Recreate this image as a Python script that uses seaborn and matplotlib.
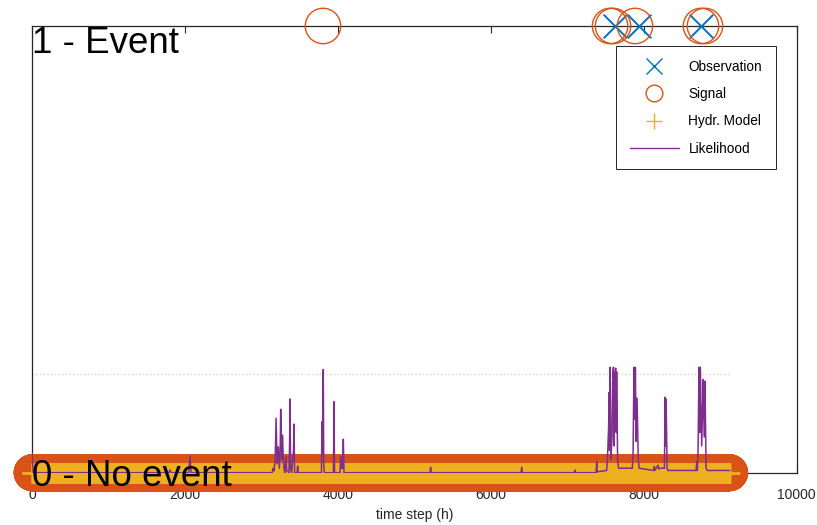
import numpy as np
import pandas as pd
import seaborn as sns
import matplotlib
matplotlib.use("Agg")
import matplotlib.pyplot as plt
from matplotlib.lines import Line2D

# ---------------- data ----------------
n_hours = 9125                                   # length of the hourly record
signal_event_hours = [3805, 7559, 7598, 7885, 8748, 8800]
observation_event_hours = [7624, 7938, 8748]
model_event_hours = []                           # hydrological model never fires
likelihood_level = 0.221                         # dotted reference level

lik_t = [0, 15, 1790, 1805, 1820, 2050, 2066, 2080,
         3140, 3155, 3165, 3180, 3192, 3205, 3221, 3235, 3245, 3252, 3262,
         3268, 3275, 3285, 3295, 3305, 3322, 3330, 3360, 3368, 3374, 3382,
         3395, 3420, 3426, 3434, 3466, 3474, 3482,
         3785, 3792, 3800, 3809, 3815, 3822, 3942, 3949, 3956,
         4028, 4036, 4045, 4062, 4071, 4080,
         5205, 5213, 5221, 6395, 6403, 6411, 7092, 7100, 7108,
         7376, 7384, 7392, 7515, 7528, 7540, 7548, 7553, 7559, 7570, 7585,
         7592, 7603, 7612, 7620, 7633, 7640, 7645, 7658, 7670,
         7850, 7860, 7872, 7880, 7890, 7900, 7912, 7928, 7940,
         8130, 8138, 8146, 8185, 8195, 8210, 8270, 8279, 8286, 8292, 8305,
         8315, 8685, 8692, 8700, 8710, 8722, 8731, 8740, 8757, 8770, 8778,
         8790, 8800, 8815, 8830, 9124]
lik_v = [0.045, 0.0, 0.0, 0.006, 0.0, 0.0, 0.037, 0.0,
         0.0, 0.010, 0.004, 0.030, 0.122, 0.020, 0.058, 0.010, 0.050, 0.142, 0.058,
         0.030, 0.084, 0.036, 0.010, 0.0, 0.036, 0.005, 0.0, 0.060, 0.165, 0.010,
         0.0, 0.050, 0.109, 0.0, 0.0, 0.015, 0.0,
         0.0, 0.114, 0.040, 0.231, 0.020, 0.0, 0.0, 0.159, 0.0,
         0.0, 0.036, 0.010, 0.010, 0.075, 0.0,
         0.0, 0.012, 0.0, 0.0, 0.012, 0.0, 0.0, 0.006, 0.0,
         0.0, 0.025, 0.002, 0.005, 0.044, 0.100, 0.180, 0.050, 0.236, 0.030, 0.080,
         0.200, 0.236, 0.060, 0.220, 0.234, 0.090, 0.226, 0.028, 0.010,
         0.010, 0.044, 0.236, 0.120, 0.236, 0.070, 0.167, 0.030, 0.010,
         0.005, 0.014, 0.005, 0.017, 0.008, 0.010, 0.010, 0.169, 0.060, 0.165, 0.010,
         0.005, 0.005, 0.025, 0.005, 0.050, 0.236, 0.090, 0.236, 0.060, 0.150, 0.209,
         0.080, 0.205, 0.010, 0.005, 0.005]

x_ticks = [0, 2000, 4000, 6000, 8000, 10000]
legend_labels = ["Observation", "Signal", "Hydr. Model", "Likelihood"]

# ---------------- series construction ----------------
hours = np.arange(n_hours)
observation = np.zeros(n_hours); observation[observation_event_hours] = 1
signal = np.zeros(n_hours); signal[signal_event_hours] = 1
model = np.zeros(n_hours); model[model_event_hours] = 1
df = pd.DataFrame({"t": hours, "obs": observation, "sig": signal, "mod": model})
lik = pd.DataFrame({"t": lik_t, "v": lik_v})

# ---------------- style ----------------
sns.set_theme(style="white")
plt.rcParams["font.family"] = ["Liberation Sans", "DejaVu Sans"]
dark = "#262626"
c_blue, c_orange, c_yellow, c_purple = "#0072BD", "#D95319", "#EDB120", "#7E2F8E"

fig = plt.figure(figsize=(8.17, 5.25), dpi=100)
ax = fig.add_axes([0.03917, 0.09962, 0.9360, 0.8509])

sns.scatterplot(data=df, x="t", y="obs", ax=ax, marker="x", s=17 ** 2,
                color=c_blue, linewidth=1.4, clip_on=False, zorder=3, legend=False)
sns.scatterplot(data=df, x="t", y="sig", ax=ax, marker="o", s=25.5 ** 2,
                facecolors="none", edgecolor=c_orange, linewidth=1.0,
                clip_on=False, zorder=3, legend=False)
sns.scatterplot(data=df, x="t", y="mod", ax=ax, marker="+", s=14.4 ** 2,
                color=c_yellow, linewidth=1.0, clip_on=False, zorder=3, legend=False)
sns.lineplot(data=lik, x="t", y="v", ax=ax, color=c_purple, linewidth=1.1,
             estimator=None, sort=False, zorder=4, legend=False)
sns.lineplot(x=[0, n_hours - 1], y=[likelihood_level, likelihood_level], ax=ax,
             color="#d6d8b8", linewidth=1.0, linestyle=":", zorder=1.5, legend=False)

ax.set_xlim(0, 10000)
ax.set_ylim(0, 1)
ax.set_xticks(x_ticks)
ax.set_xticklabels([str(v) for v in x_ticks])
ax.set_yticks([])
ax.tick_params(axis="x", direction="in", top=True, bottom=True, length=5,
               width=0.8, color=dark, labelcolor=dark, labelsize=10, pad=11)
for sp in ax.spines.values():
    sp.set_color(dark)
    sp.set_linewidth(0.9)
ax.set_xlabel("time step (h)", fontsize=10, color=dark, labelpad=4)
ax.set_ylabel("")

ax.text(0, 1, "1 - Event", ha="left", va="top", fontsize=26.5, color="black", zorder=6)
ax.text(0, 0, "0 - No event", ha="left", va="center_baseline", fontsize=26.5,
        color="black", zorder=6)

handles = [
    Line2D([], [], ls="none", marker="x", color=c_blue, markersize=12, markeredgewidth=1.0),
    Line2D([], [], ls="none", marker="o", markerfacecolor="none", markeredgecolor=c_orange,
           markersize=12, markeredgewidth=1.0),
    Line2D([], [], ls="none", marker="+", color=c_yellow, markersize=12, markeredgewidth=1.0),
    Line2D([], [], color=c_purple, linewidth=1.0),
]
leg = ax.legend(handles, legend_labels, loc="upper right", bbox_to_anchor=(0.9725, 0.955),
                borderaxespad=0, fontsize=9.8, handlelength=3.6, handletextpad=0.7,
                borderpad=1.0, labelspacing=0.98, fancybox=False, framealpha=1,
                edgecolor=dark, numpoints=1)
leg.get_frame().set_linewidth(0.7)
leg.set_zorder(7)
for t in leg.get_texts():
    t.set_color("black")

fig.savefig("out.png", dpi=100)
